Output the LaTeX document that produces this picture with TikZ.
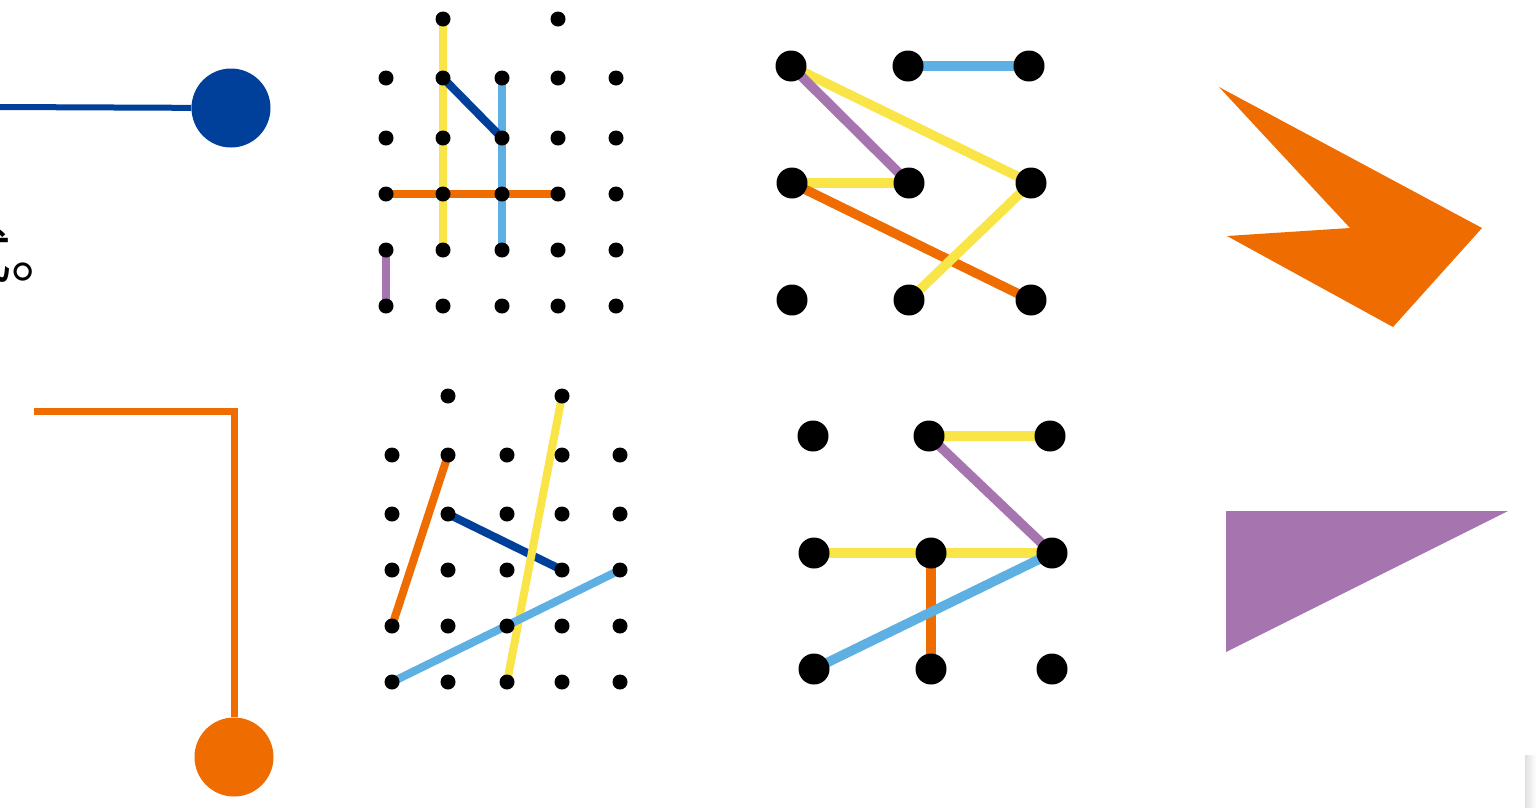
\documentclass[tikz,border=0pt]{standalone}
\usepackage{fontspec}
\newfontfamily\jpfont{Noto Sans CJK JP}
\pgfdeclarelayer{back}
\pgfsetlayers{back,main}
\definecolor{cyel}{HTML}{F9E547}
\definecolor{clb}{HTML}{5FB0E2}
\definecolor{cdb}{HTML}{00409A}
\definecolor{cor}{HTML}{EE6C00}
\definecolor{cpu}{HTML}{A675B0}
\tikzset{
  sdot/.style={circle,fill=black,inner sep=0pt,minimum size=15pt},
  bdot/.style={circle,fill=black,inner sep=0pt,minimum size=31pt},
  conn/.style={line width=8pt},
  bconn/.style={line width=9.5pt},
  bigcirc/.style={circle,inner sep=0pt,minimum size=79pt},
}
\begin{document}
\begin{tikzpicture}[x=1pt,y=-1pt]
\useasboundingbox (0,0) rectangle (1536,807);
\clip (0,0) rectangle (1536,807);
% clipped text at left edge
\node[anchor=base west,inner sep=0pt,font=\jpfont\fontsize{60}{66}\selectfont] (txt) at (-49,277) {式。};
% blue pin
\node[bigcirc,fill=cdb] (bc) at (231,108) {};
\coordinate (bl) at (0,107);
% orange pin
\node[bigcirc,fill=cor] (oc) at (234,757) {};
\coordinate (ol) at (34,411);
% top grid
\foreach \c/\x in {1/386,2/443,3/502,4/558,5/616}{
  \foreach \r/\y in {1/78,2/138,3/194,4/250,5/306}{
    \node[sdot] (a\r\c) at (\x,\y) {};
  }
}
\node[sdot] (a02) at (443,19) {};
\node[sdot] (a04) at (558,19) {};
% bottom grid
\foreach \c/\x in {1/392,2/448,3/507,4/562,5/620}{
  \foreach \r/\y in {1/455,2/514,3/570,4/626,5/682}{
    \node[sdot] (b\r\c) at (\x,\y) {};
  }
}
\node[sdot] (b02) at (448,396) {};
\node[sdot] (b04) at (562,396) {};
% top-right graph
\node[bdot] (p11) at (791,66) {};
\node[bdot] (p12) at (908,66) {};
\node[bdot] (p13) at (1029,66) {};
\node[bdot] (p21) at (792,183) {};
\node[bdot] (p22) at (909,183) {};
\node[bdot] (p23) at (1031,183) {};
\node[bdot] (p31) at (792,300) {};
\node[bdot] (p32) at (909,300) {};
\node[bdot] (p33) at (1031,300) {};
% bottom-right graph
\node[bdot] (q11) at (813,436) {};
\node[bdot] (q12) at (929,436) {};
\node[bdot] (q13) at (1050,436) {};
\node[bdot] (q21) at (814,553) {};
\node[bdot] (q22) at (931,553) {};
\node[bdot] (q23) at (1052,553) {};
\node[bdot] (q31) at (814,669) {};
\node[bdot] (q32) at (931,669) {};
\node[bdot] (q33) at (1052,669) {};
% shapes
\fill[cor] (1219,87) -- (1482,228) -- (1393,327) -- (1227,236) -- (1350,228) -- cycle;
\fill[cpu] (1226,511) -- (1508,511) -- (1226,652) -- cycle;
\shade[left color=black!12,right color=white] (1525,755) rectangle (1536,807);
\begin{pgfonlayer}{back}
\draw[cdb,line width=6pt] (bl) -- (bc);
\draw[cor,line width=7pt,miter limit=10] (ol) -| (oc);
% top grid lines
\draw[conn,cyel] (a02.center) -- (a42.center);
\draw[conn,clb] (a13.center) -- (a43.center);
\draw[conn,cdb] (a12.center) -- (a23.center);
\draw[conn,cor] (a31.center) -- (a34.center);
\draw[conn,cpu] (a41.center) -- (a51.center);
% bottom grid lines
\draw[conn,cor] (b12.center) -- (b41.center);
\draw[conn,cdb] (b22.center) -- (b34.center);
\draw[conn,cyel] (b04.center) -- (b53.center);
\draw[conn,clb] (b51.center) -- (b35.center);
% top-right graph
\draw[bconn,clb] (p12.center) -- (p13.center);
\draw[bconn,cyel] (p11.center) -- (p23.center);
\draw[bconn,cpu] (p11.center) -- (p22.center);
\draw[bconn,cyel] (p21.center) -- (p22.center);
\draw[bconn,cor] (p21.center) -- (p33.center);
\draw[bconn,cyel] (p32.center) -- (p23.center);
% bottom-right graph
\draw[bconn,cyel] (q12.center) -- (q13.center);
\draw[bconn,cpu] (q12.center) -- (q23.center);
\draw[bconn,cyel] (q21.center) -- (q23.center);
\draw[bconn,cor] (q22.center) -- (q32.center);
\draw[bconn,clb] (q31.center) -- (q23.center);
\end{pgfonlayer}
\end{tikzpicture}
\end{document}
